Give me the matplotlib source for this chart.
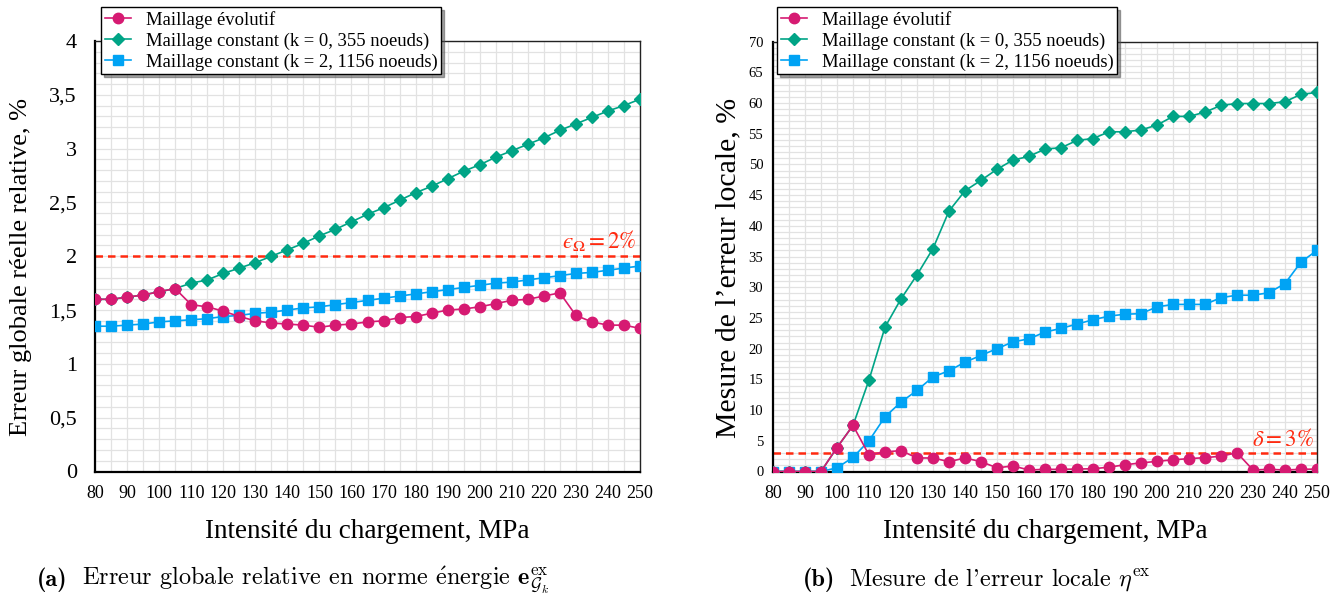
import matplotlib
matplotlib.use("Agg")
import matplotlib.pyplot as plt
from matplotlib.ticker import MultipleLocator, FuncFormatter

# intensite du chargement (MPa)
charge = [80, 85, 90, 95, 100, 105, 110, 115, 120, 125, 130, 135,
          140, 145, 150, 155, 160, 165, 170, 175, 180, 185, 190, 195,
          200, 205, 210, 215, 220, 225, 230, 235, 240, 245, 250]

# (a) erreur globale reelle relative, %
glob_evol = [1.60, 1.60, 1.62, 1.64, 1.67, 1.70, 1.55, 1.53, 1.49, 1.44,
             1.40, 1.38, 1.37, 1.36, 1.34, 1.36, 1.37, 1.39, 1.40, 1.43,
             1.44, 1.47, 1.50, 1.51, 1.53, 1.56, 1.59, 1.60, 1.63, 1.66,
             1.45, 1.39, 1.36, 1.36, 1.33]
glob_k0 = [1.60, 1.60, 1.62, 1.64, 1.67, 1.70, 1.75, 1.78, 1.84, 1.89,
           1.94, 2.00, 2.06, 2.12, 2.19, 2.25, 2.32, 2.39, 2.45, 2.52,
           2.59, 2.65, 2.72, 2.79, 2.85, 2.92, 2.98, 3.04, 3.10, 3.17,
           3.23, 3.29, 3.35, 3.40, 3.46]
glob_k2 = [1.35, 1.35, 1.36, 1.37, 1.39, 1.40, 1.41, 1.42, 1.44, 1.45,
           1.47, 1.48, 1.50, 1.52, 1.53, 1.55, 1.57, 1.59, 1.61, 1.63,
           1.65, 1.67, 1.69, 1.71, 1.73, 1.75, 1.76, 1.78, 1.80, 1.82,
           1.84, 1.85, 1.87, 1.89, 1.91]

# (b) mesure de l'erreur locale, %
loc_evol = [0.0, 0.0, 0.0, 0.0, 3.9, 7.5, 2.7, 3.2, 3.4, 2.2,
            2.2, 1.6, 2.2, 1.6, 0.6, 0.9, 0.25, 0.35, 0.35, 0.4,
            0.45, 0.7, 1.1, 1.4, 1.65, 1.9, 2.1, 2.25, 2.5, 3.05,
            0.25, 0.35, 0.25, 0.35, 0.4]
loc_k0 = [0.0, 0.0, 0.0, 0.0, 3.9, 7.5, 14.9, 23.5, 28.1, 32.0,
          36.3, 42.4, 45.7, 47.4, 49.2, 50.7, 51.3, 52.5, 52.7, 53.9,
          54.2, 55.3, 55.3, 55.6, 56.4, 57.8, 57.8, 58.5, 59.6, 59.9,
          59.9, 59.9, 60.2, 61.4, 61.7]
loc_k2 = [0.0, 0.0, 0.0, 0.0, 0.6, 2.3, 5.0, 8.9, 11.3, 13.2,
          15.4, 16.4, 17.8, 18.9, 20.0, 21.1, 21.6, 22.7, 23.3, 24.0,
          24.7, 25.3, 25.6, 25.7, 26.8, 27.2, 27.2, 27.2, 28.3, 28.7,
          28.7, 29.1, 30.6, 34.1, 36.0]

labels = ["Maillage évolutif",
          "Maillage constant (k = 0, 355 noeuds)",
          "Maillage constant (k = 2, 1156 noeuds)"]
seuil_glob = 2.0
seuil_loc = 3.0

PINK = "#d61a72"
GREEN = "#00a486"
BLUE = "#00a3f4"
RED = "#ff2a10"
SERIF = "Liberation Serif"

plt.rcParams["mathtext.fontset"] = "cm"
plt.rcParams["font.family"] = SERIF

fig = plt.figure(figsize=(13.41, 6.10), dpi=100)
W, H = 1341, 610


def px_axes(x0, y0, x1, y1):
    return fig.add_axes([x0 / W, 1 - y1 / H, (x1 - x0) / W, (y1 - y0) / H])


comma = FuncFormatter(lambda v, p: ("%g" % v).replace(".", ","))


def draw(ax, evol, k0, k2, seuil, ymax, ymajor, yminor, yfs, ypad):
    lb, = ax.plot(charge, k2, "-s", color=BLUE, ms=6.5, lw=1.2, zorder=3)
    lg, = ax.plot(charge, k0, "-D", color=GREEN, ms=6, lw=1.2, zorder=4)
    lp, = ax.plot(charge, evol, "-o", color=PINK, ms=7.5, lw=1.2, zorder=5)
    ax.axhline(seuil, color=RED, lw=1.8, dashes=(3, 2), zorder=2)
    ax.set_xlim(80, 250)
    ax.set_ylim(0, ymax)
    ax.xaxis.set_major_locator(MultipleLocator(10))
    ax.xaxis.set_minor_locator(MultipleLocator(5))
    ax.yaxis.set_major_locator(MultipleLocator(ymajor))
    ax.yaxis.set_minor_locator(MultipleLocator(yminor))
    ax.yaxis.set_major_formatter(comma)
    ax.grid(True, which="both", color="#e2e2e2", lw=0.9, zorder=0)
    ax.set_axisbelow(True)
    ax.tick_params(which="both", length=0)
    ax.tick_params(axis="x", labelsize=13, pad=10)
    ax.tick_params(axis="y", labelsize=yfs, pad=ypad)
    for s in ax.spines.values():
        s.set_color("#222222")
        s.set_linewidth(1.0)
    ax.spines["left"].set_linewidth(1.6)
    ax.spines["bottom"].set_linewidth(1.6)
    ax.spines["left"].set_color("black")
    ax.spines["bottom"].set_color("black")
    ax.set_xlabel("Intensité du chargement, MPa", fontsize=19.5)
    ax.xaxis.set_label_coords(0.5, -0.11)
    return [lp, lg, lb]


# (a)
ax1 = px_axes(95, 41, 640, 471.5)
h1 = draw(ax1, glob_evol, glob_k0, glob_k2, seuil_glob, 4, 0.5, 0.1, 16, 13)
ax1.set_ylabel("Erreur globale réelle relative, %", fontsize=19)
ax1.yaxis.set_label_coords(-0.115, 0.475)
ax1.text(249, seuil_glob + 0.03, r"$ϵ_{\Omega} = \mathit{2\%}$",
         color=RED, fontsize=16.5, ha="right", va="bottom",
         math_fontfamily="stix")
ax1.legend(h1, labels, loc="upper left", bbox_to_anchor=(101 / W, 1 - 7 / H),
           bbox_transform=fig.transFigure, fancybox=False, shadow=True,
           edgecolor="black", framealpha=1, fontsize=13.4, handlelength=1.4,
           labelspacing=0.2, borderpad=0.2, borderaxespad=0)

# (b)
ax2 = px_axes(773, 41.5, 1317, 471.5)
h2 = draw(ax2, loc_evol, loc_k0, loc_k2, seuil_loc, 70, 5, 1, 10.5, 7)
ax2.set_ylabel("Mesure de l’erreur locale, %", fontsize=21.5)
ax2.yaxis.set_label_coords(-0.058, 0.473)
ax2.text(249, seuil_loc + 0.4, r"$\delta = \mathit{3\%}$",
         color=RED, fontsize=16.5, ha="right", va="bottom",
         math_fontfamily="stix")
ax2.legend(h2, labels, loc="upper left", bbox_to_anchor=(777 / W, 1 - 7 / H),
           bbox_transform=fig.transFigure, fancybox=False, shadow=True,
           edgecolor="black", framealpha=1, fontsize=13.4, handlelength=1.4,
           labelspacing=0.2, borderpad=0.2, borderaxespad=0)

# legendes des sous-figures
cap = dict(fontsize=17.5, va="center", ha="left", family=["cmr10", "DejaVu Serif"])
fig.text(37 / W, 1 - 580 / H, "(a)", fontsize=17.5, va="center", ha="left",
         family="cmb10")
fig.text(82 / W, 1 - 580 / H,
         r"Erreur globale relative en norme $\mathrm{\acute{e}}$nergie "
         r"$\mathbf{e}^{\mathrm{ex}}_{\mathcal{G}_k}$", **cap)
fig.text(803 / W, 1 - 580 / H, "(b)", fontsize=17.5, va="center", ha="left",
         family="cmb10")
fig.text(849 / W, 1 - 580 / H,
         r"Mesure de l'erreur locale $\eta^{\mathrm{ex}}$", **cap)

fig.savefig("out.png", dpi=100)
